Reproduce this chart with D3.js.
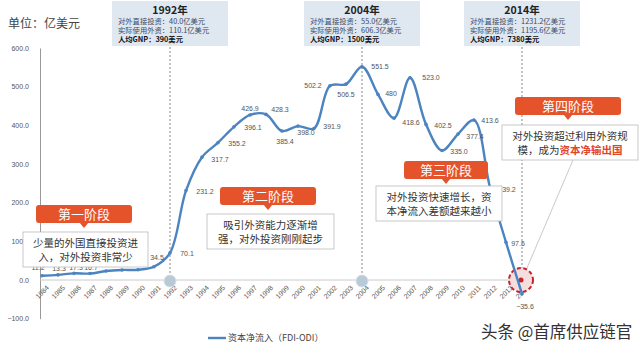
<!DOCTYPE html>
<html>
<head>
<meta charset="utf-8">
<script src="https://cdn.jsdelivr.net/npm/d3@7"></script>
<style>
  body { margin: 0; background: #fff; }
  svg { font-family: "Liberation Sans", "Noto Sans CJK SC", sans-serif; }
  .cn { font-family: "Noto Sans CJK SC", sans-serif; }
</style>
</head>
<body>
<div id="chart-area"></div>
<script>
// 资本净流入 (FDI-ODI), 亿美元
const years = d3.range(1984, 2015);
const netInflow = [11.2, 13.3, 17.3, 16.7, 23.4, 26.1, 26.6, 34.5, 70.1, 231.2,
  317.7, 355.2, 396.1, 426.9, 428.3, 385.4, 398.0, 391.9, 502.2, 506.5,
  551.5, 480, 418.6, 523.0, 402.5, 335.0, 377.4, 413.6, 239.2, 97.5, -35.6];
const yTicks = [-100, 0, 100, 200, 300, 400, 500, 600];

// label placement (dx, dy) per point; null = hidden behind the callout box
const labelOffsets = [[-4, -8], [1, -6], [2, -6], [1, -6], null, null, null, [3, -9],
  [17, 1], [19, 1], [18, 2], [19, 1], [19, 1], [0, -6], [14, -5], [3, 11], [8, 6], [18, -2],
  [-17, 0], [0, 10], [18, 0], [13, -1], [17, 4], [21, 0], [17, 1], [17, 1], [17, 2], [16, 0],
  [17, 2], [12, 1], [3, 13]];

const milestones = [
  { year: 1992, odi: "40.0", fdi: "110.1", gnp: "390" },
  { year: 2004, odi: "55.0", fdi: "606.3", gnp: "1500" },
  { year: 2014, odi: "1231.2", fdi: "1195.6", gnp: "7380" }
];

const stages = [
  { name: "第一阶段", cx: 84, y: 205, tw: 96, text: ["少量的外国直接投资进", "入，对外投资非常少"], bx: 23, by: 232, bw: 125 },
  { name: "第二阶段", cx: 268, y: 187, tw: 96, text: ["吸引外资能力逐渐增", "强，对外投资刚刚起步"], bx: 207, by: 214, bw: 127 },
  { name: "第三阶段", cx: 446, y: 161, tw: 84, text: ["对外投资快速增长，资", "本净流入差额越来越小"], bx: 376, by: 186, bw: 126 },
  { name: "第四阶段", cx: 568, y: 97, tw: 106, text: ["对外投资超过利用外资规", "模，成为资本净输出国"], bx: 502, by: 125, bw: 136 }
];

const W = 640, H = 354;
const svg = d3.select("#chart-area").append("svg")
  .attr("width", W).attr("height", H);

const x = d3.scaleLinear().domain([1984, 2014]).range([42, 522]);
const y = d3.scaleLinear().domain([-100, 600]).range([318.7, 48]);

svg.append("text").attr("class", "cn")
  .attr("x", 8).attr("y", 28)
  .attr("font-size", 12).attr("fill", "#444")
  .text("单位：亿美元");

// y axis
const yAxis = svg.append("g")
  .attr("transform", "translate(40,0)")
  .call(d3.axisLeft(y).tickValues(yTicks).tickSize(0).tickPadding(11).tickFormat(d3.format(".1f")));
yAxis.select(".domain").attr("stroke", "#999");
yAxis.selectAll("text").attr("font-size", 7).attr("fill", "#555");

// zero line + x labels
svg.append("line")
  .attr("x1", 40).attr("x2", 532)
  .attr("y1", y(0)).attr("y2", y(0))
  .attr("stroke", "#ccc");

const xAxis = svg.append("g")
  .attr("transform", `translate(0,${y(0)})`)
  .call(d3.axisBottom(x).tickValues(years).tickSize(0).tickFormat(d3.format("d")));
xAxis.select(".domain").remove();
xAxis.selectAll("text")
  .attr("font-size", 7).attr("fill", "#555")
  .attr("text-anchor", "end")
  .attr("dy", 0)
  .attr("transform", "translate(5,6) rotate(-45)");

// milestone boxes and dashed lines
milestones.forEach(m => {
  const cx = x(m.year);
  svg.append("line")
    .attr("x1", cx).attr("x2", cx)
    .attr("y1", 47).attr("y2", m.year === 2014 ? 268 : y(0))
    .attr("stroke", "#888").attr("stroke-dasharray", "2,2");
  const g = svg.append("g").attr("class", "cn");
  g.append("rect")
    .attr("x", cx - 58).attr("y", 1).attr("width", 116).attr("height", 45)
    .attr("fill", "#dfe7f1");
  g.append("text")
    .attr("x", cx).attr("y", 14).attr("text-anchor", "middle")
    .attr("font-size", 10.5).attr("font-weight", "bold").attr("fill", "#222")
    .text(m.year + "年");
  const lx = cx - 52;
  g.append("text").attr("x", lx).attr("y", 24).attr("font-size", 7.3).attr("fill", "#3a4a60")
    .text("对外直接投资：" + m.odi + "亿美元");
  g.append("text").attr("x", lx).attr("y", 33).attr("font-size", 7.3).attr("fill", "#3a4a60")
    .text("实际使用外资：" + m.fdi + "亿美元");
  g.append("text").attr("x", lx).attr("y", 42).attr("font-size", 7.3).attr("font-weight", "bold").attr("fill", "#111")
    .text("人均GNP：" + m.gnp + "美元");
});

// baseline markers
[1992, 2004].forEach(yr => {
  svg.append("circle")
    .attr("cx", x(yr)).attr("cy", y(0) + 1).attr("r", 6)
    .attr("fill", "#b9c9d6").attr("stroke", "#d5e0e8");
});
svg.append("circle")
  .attr("cx", x(2014) - 1).attr("cy", y(0)).attr("r", 12)
  .attr("fill", "#f6dede").attr("stroke", "#c8242c")
  .attr("stroke-width", 2).attr("stroke-dasharray", "4,2.5");
svg.append("circle")
  .attr("cx", x(2014) - 1).attr("cy", y(0)).attr("r", 2.5)
  .attr("fill", "#c8242c");

// connector from stage 4 box
svg.append("line")
  .attr("x1", 573).attr("y1", 160).attr("x2", 527).attr("y2", 268)
  .attr("stroke", "#bbb").attr("stroke-width", 0.8);

// series
const data = years.map((yr, i) => ({ year: yr, value: netInflow[i], off: labelOffsets[i] }));

svg.append("path")
  .datum(data)
  .attr("fill", "none")
  .attr("stroke", "#4b84c0")
  .attr("stroke-width", 2.4)
  .attr("d", d3.line().x(d => x(d.year)).y(d => y(d.value)).curve(d3.curveCatmullRom));

svg.selectAll(".pt")
  .data(data)
  .enter().append("circle")
  .attr("class", "pt")
  .attr("cx", d => x(d.year)).attr("cy", d => y(d.value))
  .attr("r", 1.8).attr("fill", "#4b84c0");

svg.selectAll(".lbl")
  .data(data.filter(d => d.off))
  .enter().append("text")
  .attr("class", "lbl")
  .attr("x", d => x(d.year) + d.off[0])
  .attr("y", d => y(d.value) + d.off[1] + 2.5)
  .attr("text-anchor", "middle")
  .attr("font-size", 7).attr("fill", "#555")
  .text(d => d.value === 480 ? "480" : d3.format(".1f")(d.value));

// stage tags and description boxes
stages.forEach((s, i) => {
  const g = svg.append("g").attr("class", "cn");
  const th = 18;
  g.append("rect")
    .attr("x", s.bx).attr("y", s.by).attr("width", s.bw).attr("height", 35)
    .attr("fill", "#fff").attr("stroke", "#bbb").attr("stroke-width", 0.8);
  s.text.forEach((t, j) => {
    const tx = g.append("text")
      .attr("x", s.bx + s.bw / 2).attr("y", s.by + 15 + j * 14)
      .attr("text-anchor", "middle")
      .attr("font-size", 10.5).attr("fill", "#333");
    if (i === 3 && j === 1) {
      tx.append("tspan").text("模，成为");
      tx.append("tspan").attr("fill", "#e0442a").attr("font-weight", "bold").text("资本净输出国");
    } else {
      tx.text(t);
    }
  });
  g.append("path")
    .attr("d", `M${s.cx - 5},${s.y + th - 1}L${s.cx},${s.y + th + 5}L${s.cx + 5},${s.y + th - 1}Z`)
    .attr("fill", "#e5532b");
  g.append("rect")
    .attr("x", s.cx - s.tw / 2).attr("y", s.y).attr("width", s.tw).attr("height", th)
    .attr("rx", 3).attr("fill", "#e5532b");
  g.append("text")
    .attr("x", s.cx).attr("y", s.y + 14)
    .attr("text-anchor", "middle")
    .attr("font-size", 13).attr("fill", "#fff")
    .text(s.name);
});

// legend
svg.append("line")
  .attr("x1", 208).attr("x2", 226).attr("y1", 338).attr("y2", 338)
  .attr("stroke", "#4b84c0").attr("stroke-width", 2.4);
svg.append("text").attr("class", "cn")
  .attr("x", 228).attr("y", 341)
  .attr("font-size", 9).attr("fill", "#444")
  .text("资本净流入（FDI-ODI）");

// watermark
svg.append("text").attr("class", "cn")
  .attr("x", 481).attr("y", 338)
  .attr("font-size", 16.5).attr("fill", "#333")
  .text("头条 @首席供应链官");
</script>
</body>
</html>
